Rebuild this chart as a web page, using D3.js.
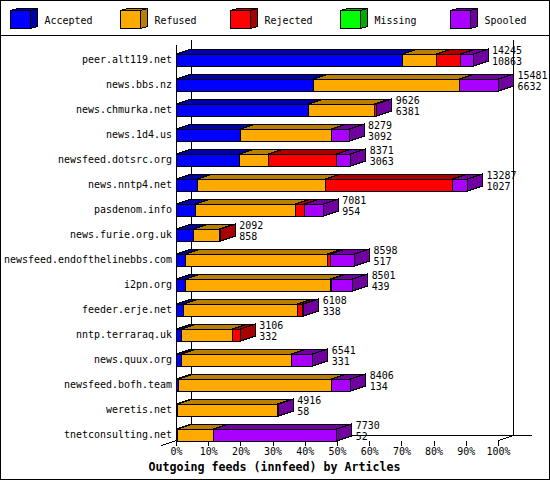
<!DOCTYPE html>
<html>
<head>
<meta charset="utf-8">
<script src="https://d3js.org/d3.v7.min.js"></script>
<style>
html, body { margin: 0; padding: 0; background: #fff; }
svg { display: block; }
text { font-family: "DejaVu Sans Mono", monospace; font-size: 10.5px; fill: #000; }
</style>
</head>
<body>
<div id="chart"></div>
<script>
const hosts = ["peer.alt119.net", "news.bbs.nz", "news.chmurka.net", "news.1d4.us", "newsfeed.dotsrc.org", "news.nntp4.net", "pasdenom.info", "news.furie.org.uk", "newsfeed.endofthelinebbs.com", "i2pn.org", "feeder.erje.net", "nntp.terraraq.uk", "news.quux.org", "newsfeed.bofh.team", "weretis.net", "tnetconsulting.net"];
// percent widths
const accepted = [70.1, 42.5, 40.9, 20.0, 19.5, 6.4, 5.8, 5.2, 2.9, 2.7, 2.1, 1.7, 1.7, 0.5, 0.3, 0.2];
const refused = [10.8, 45.4, 20.6, 28.0, 9.0, 39.9, 31.1, 8.0, 43.9, 45.2, 35.5, 15.8, 34.1, 47.7, 31.1, 11.2];
const rejected = [7.3, 0.1, 0.5, 0, 21.2, 39.4, 2.8, 0.4, 1.1, 0.1, 1.6, 2.3, 0, 0, 0, 0];
const missing = [0, 0, 0, 0, 0, 0, 0, 0, 0, 0, 0, 0, 0, 0, 0, 0];
const spooled = [3.9, 12.0, 0.2, 5.6, 4.4, 4.7, 5.9, 0, 7.4, 6.7, 0.3, 0, 6.5, 5.9, 0.2, 38.4];
const offered = [14245, 15481, 9626, 8279, 8371, 13287, 7081, 2092, 8598, 8501, 6108, 3106, 6541, 8406, 4916, 7730];
const sent = [10863, 6632, 6381, 3092, 3063, 1027, 954, 858, 517, 439, 338, 332, 331, 134, 58, 52];

const seriesNames = ["Accepted", "Refused", "Rejected", "Missing", "Spooled"];
const seriesValues = [accepted, refused, rejected, missing, spooled];
const front = ["#0000ff", "#ffaa00", "#ff0000", "#00ff00", "#aa00ff"];
const shade = ["#0000aa", "#b87f00", "#aa0000", "#00aa00", "#7000a0"];
const xTicks = [0, 10, 20, 30, 40, 50, 60, 70, 80, 90, 100];

const width = 550, height = 480;
const depthX = 15, depthY = 5;
const bottom = 440.5;
const charW = 6;

const svg = d3.select("#chart").append("svg")
    .attr("width", width)
    .attr("height", height)
    .attr("shape-rendering", "crispEdges");

const x = d3.scaleLinear().domain([0, 100]).range([176.5, 498.5]);
const y = d3.scaleBand().domain(hosts).range([47, 447]).paddingInner(0.52).paddingOuter(0.26);
const legendX = d3.scalePoint().domain(seriesNames).range([10.5, 450.5]);

// keep the 6px cell of the original bitmap font
function fit(sel, w) {
    sel.attr("textLength", String(sel.text()).length * w).attr("lengthAdjust", "spacingAndGlyphs");
    return sel;
}

function box(g, x0, x1, y0, h, dx, dy, i, drawSide) {
    g.append("path")
        .attr("d", `M${x0},${y0}L${x0 + dx},${y0 - dy}L${x1 + dx},${y0 - dy}L${x1},${y0}Z`)
        .attr("fill", shade[i]).attr("stroke", "#000");
    g.append("rect")
        .attr("x", x0).attr("y", y0).attr("width", x1 - x0).attr("height", h)
        .attr("fill", front[i]).attr("stroke", "#000");
    if (drawSide) {
        g.append("path")
            .attr("d", `M${x1},${y0}L${x1 + dx},${y0 - dy}L${x1 + dx},${y0 + h - dy}L${x1},${y0 + h}Z`)
            .attr("fill", shade[i]).attr("stroke", "#000");
    }
}

// outer frame and legend rule
svg.append("rect").attr("x", 0.5).attr("y", 0.5).attr("width", 549).attr("height", 479)
    .attr("fill", "#fff").attr("stroke", "#000");
svg.append("line").attr("x1", 0).attr("x2", 550).attr("y1", 35.5).attr("y2", 35.5).attr("stroke", "#000");

// legend
seriesNames.forEach((name, i) => {
    const g = svg.append("g");
    box(g, legendX(name), legendX(name) + 20, 10.5, 18, 7, 2, i, true);
    fit(g.append("text").attr("x", legendX(name) + 34).attr("y", 20).attr("dy", "0.35em").text(name), charW);
});

// 3d walls
const walls = svg.append("g").attr("stroke", "#000").attr("fill", "none");
walls.append("line").attr("x1", x(0)).attr("x2", x(0)).attr("y1", 45).attr("y2", bottom);
walls.append("line").attr("x1", x(0) + depthX).attr("x2", x(0) + depthX).attr("y1", 40).attr("y2", bottom - depthY);
walls.append("line").attr("x1", x(100) + depthX).attr("x2", x(100) + depthX).attr("y1", 40).attr("y2", bottom - depthY);
walls.append("line").attr("x1", x(0) + depthX).attr("x2", 532).attr("y1", bottom - depthY).attr("y2", bottom - depthY);
walls.append("line").attr("x1", x(100)).attr("x2", x(100) + depthX).attr("y1", bottom).attr("y2", bottom - depthY);
walls.append("line").attr("x1", x(0) - depthX).attr("x2", x(0)).attr("y1", bottom + depthY).attr("y2", bottom);

// x axis
const xAxis = svg.append("g")
    .attr("transform", `translate(0,${bottom})`)
    .call(d3.axisBottom(x).tickValues(xTicks).tickFormat(d => d + "%").tickSize(5).tickPadding(2).offset(0));
xAxis.select(".domain").remove();
xAxis.selectAll("text")
    .style("font-family", "'DejaVu Sans Mono', monospace")
    .style("font-size", "10.5px")
    .each(function() { fit(d3.select(this), charW); });

// y axis labels
svg.append("g").selectAll("text").data(hosts).join("text")
    .attr("x", 172)
    .attr("y", d => y(d) + y.bandwidth() / 2)
    .attr("dy", "0.35em")
    .attr("text-anchor", "end")
    .attr("textLength", d => d.length * charW)
    .attr("lengthAdjust", "spacingAndGlyphs")
    .text(d => d);

// stacked bars
hosts.forEach((host, r) => {
    const g = svg.append("g");
    let cum = 0;
    let last = -1;
    seriesValues.forEach((vals, i) => { if (vals[r] > 0) last = i; });
    seriesValues.forEach((vals, i) => {
        if (vals[r] <= 0) return;
        const x0 = x(cum), x1 = x(cum + vals[r]);
        box(g, Math.round(x0 - 0.5) + 0.5, Math.round(x1 - 0.5) + 0.5, y(host) + 0.5, y.bandwidth(), depthX, depthY, i, i === last);
        cum += vals[r];
    });
    const tx = x(cum) + depthX + 4;
    const cy = y(host) + y.bandwidth() / 2;
    fit(g.append("text").attr("x", tx).attr("y", cy - 9).attr("dy", "0.35em").text(offered[r]), charW);
    fit(g.append("text").attr("x", tx).attr("y", cy + 2).attr("dy", "0.35em").text(sent[r]), charW);
});

// title
svg.append("text")
    .attr("x", 274.5).attr("y", 467).attr("dy", "0.35em")
    .attr("text-anchor", "middle")
    .attr("textLength", 252)
    .attr("lengthAdjust", "spacingAndGlyphs")
    .style("font-size", "12px").style("font-weight", "bold")
    .text("Outgoing feeds (innfeed) by Articles");
</script>
</body>
</html>
